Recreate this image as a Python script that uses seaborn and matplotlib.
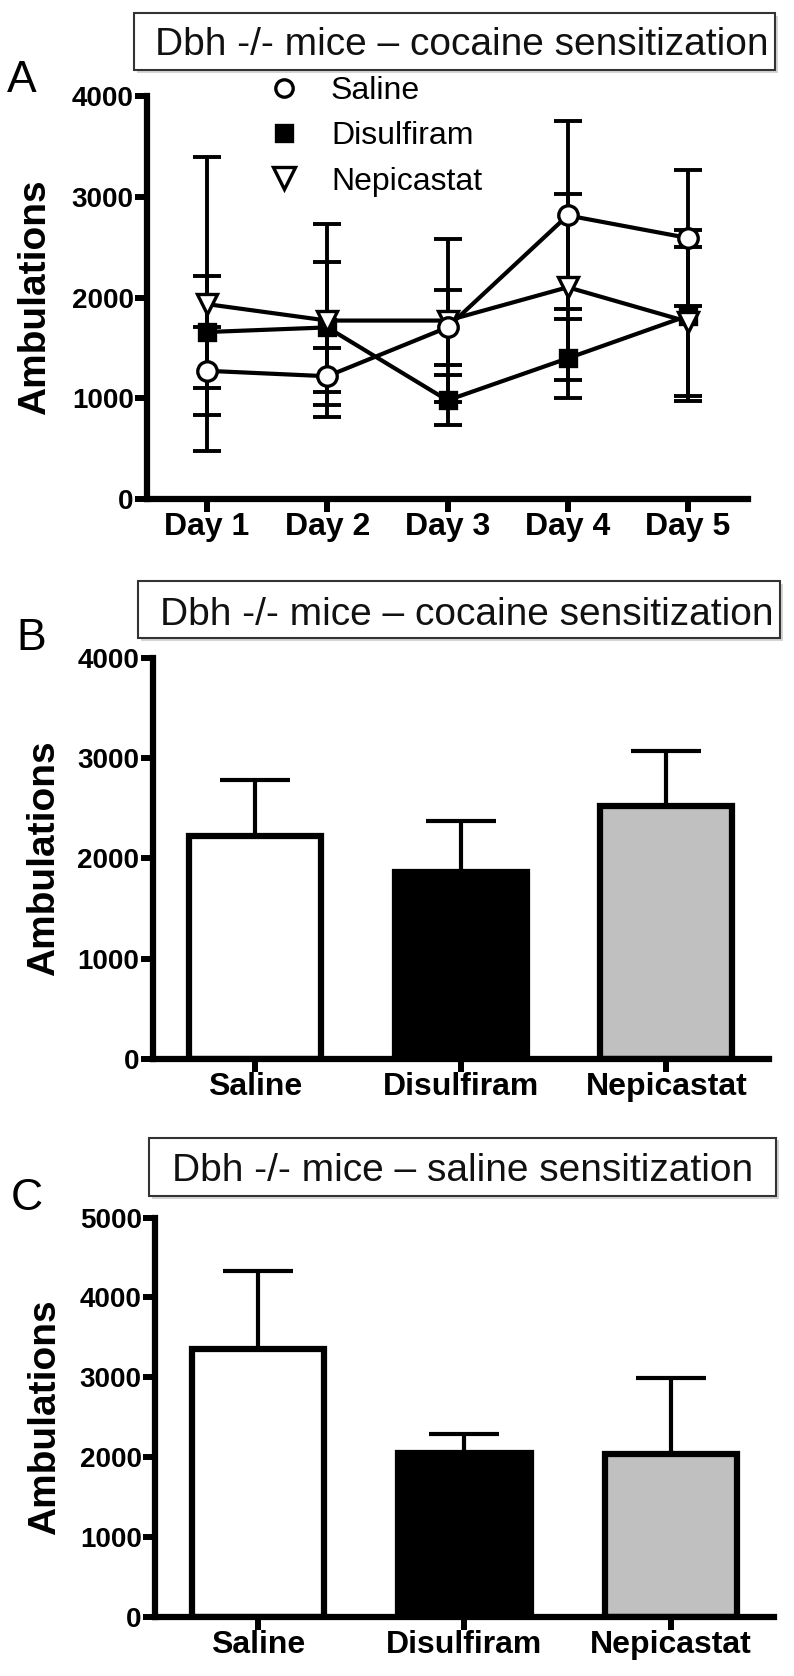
import numpy as np
import matplotlib
matplotlib.use("Agg")
import matplotlib.pyplot as plt
from matplotlib.patches import Rectangle
from matplotlib.lines import Line2D
import seaborn as sns

# panel A - ambulations per day (mean, sem)
days = ['Day 1', 'Day 2', 'Day 3', 'Day 4', 'Day 5']
saline_mean = [1273, 1219, 1704, 2816, 2592]
saline_sem = [440, 285, 375, 934, 677]
disulfiram_mean = [1658, 1704, 980, 1397, 1820]
disulfiram_sem = [555, 645, 250, 390, 850]
nepicastat_mean = [1935, 1772, 1772, 2103, 1760]
nepicastat_sem = [1460, 955, 813, 925, 740]

# panels B and C - totals per treatment
groups = ['Saline', 'Disulfiram', 'Nepicastat']
cocaine_mean = [2225, 1868, 2522]
cocaine_sem = [555, 501, 548]
salsens_mean = [3350, 2046, 2037]
salsens_sem = [980, 247, 953]
bar_colors = ['white', 'black', '#c0c0c0']

titles = ['Dbh -/- mice \u2013 cocaine sensitization',
          'Dbh -/- mice \u2013 cocaine sensitization',
          'Dbh -/- mice \u2013 saline sensitization']

sns.set_style("ticks")
plt.rcParams['font.family'] = ['Liberation Sans', 'DejaVu Sans']
# pure black text and axes (seaborn defaults to dark gray)
for key in ['text.color', 'axes.labelcolor', 'xtick.color', 'ytick.color', 'axes.edgecolor']:
    plt.rcParams[key] = 'black'

W, H = 794, 1676
fig = plt.figure(figsize=(W / 100, H / 100), dpi=100)


def fx(x):
    return x / W


def fy(y):
    return 1 - y / H


def axes_px(left, top, right, bottom):
    return fig.add_axes([fx(left), fy(bottom), (right - left) / W, (bottom - top) / H])


def style_axes(ax, yticks, xlabels, ylab_x):
    sns.despine(ax=ax)
    for s in ['left', 'bottom']:
        ax.spines[s].set_linewidth(4.5)
        ax.spines[s].set_color('black')
        ax.spines[s].set_capstyle('projecting')
    ax.tick_params(axis='both', length=9, width=4.3, color='black', labelcolor='black', pad=0.5)
    ax.set_yticks(yticks, labels=[str(t) for t in yticks], fontsize=20, fontweight='bold')
    ax.set_xticks(range(len(xlabels)), labels=xlabels, fontsize=23, fontweight='bold')
    ax.set_ylim(yticks[0], yticks[-1])
    ax.set_xlim(-0.5, len(xlabels) - 0.5)
    ax.set_xlabel('')
    ax.set_ylabel('Ambulations', fontsize=28, fontweight='bold', color='black')
    ax.yaxis.set_label_coords(ylab_x, 0.5)


def title_box(left, top, right, bottom, text, tx, ty):
    shadow = Rectangle((fx(left + 3), fy(bottom + 3)), (right - left) / W, (bottom - top) / H,
                       transform=fig.transFigure, facecolor='#d4d4d4', edgecolor='none', zorder=0)
    box = Rectangle((fx(left), fy(bottom)), (right - left) / W, (bottom - top) / H,
                    transform=fig.transFigure, facecolor='white', edgecolor='#333333',
                    linewidth=1.5, zorder=1)
    fig.add_artist(shadow)
    fig.add_artist(box)
    fig.text(fx(tx), fy(ty), text, fontsize=28, color='#111111', ha='left', va='baseline', zorder=2)


# ---------------- Panel A ----------------
axA = axes_px(147, 96.2, 748, 499)
x_idx = np.arange(len(days))
series = [
    (disulfiram_mean, disulfiram_sem, dict(marker='s', markersize=11.5, markerfacecolor='black')),
    (nepicastat_mean, nepicastat_sem, dict(marker='v', markersize=14.5, markerfacecolor='white')),
    (saline_mean, saline_sem, dict(marker='o', markersize=14, markerfacecolor='white')),
]
for mean, sem, mk in series:
    axA.errorbar(x_idx, mean, yerr=sem, fmt='none', ecolor='black', elinewidth=2.8,
                 capsize=10, capthick=2.8, zorder=2)
for mean, sem, mk in series:
    sns.lineplot(x=x_idx, y=mean, ax=axA, color='black', linewidth=3, errorbar=None,
                 markeredgecolor='black', markeredgewidth=2.4, zorder=3, **mk)
style_axes(axA, [0, 1000, 2000, 3000, 4000], days, -0.156)

handles = [
    Line2D([], [], ls='none', marker='o', ms=12.5, mfc='white', mec='black', mew=2.4),
    Line2D([], [], ls='none', marker='s', ms=11.5, mfc='black', mec='black', mew=2.4),
    Line2D([], [], ls='none', marker='v', ms=16, mfc='white', mec='black', mew=2.4),
]
fig.legend(handles, groups, loc='upper left', bbox_to_anchor=(fx(268), fy(76)),
           frameon=False, fontsize=23, handlelength=1.0, handletextpad=0.97,
           labelspacing=0.48, borderpad=0, borderaxespad=0, labelcolor='black')

# ---------------- Panel B ----------------
axB = axes_px(152.5, 657.6, 769, 1059)
sns.barplot(x=groups, y=cocaine_mean, hue=groups, palette=bar_colors, legend=False,
            errorbar=None, width=0.64, edgecolor='black', linewidth=4.5, ax=axB)
axB.errorbar(range(3), cocaine_mean, yerr=[np.zeros(3), cocaine_sem], fmt='none',
             ecolor='black', elinewidth=3, capsize=25, capthick=3, zorder=0.5)
style_axes(axB, [0, 1000, 2000, 3000, 4000], groups, -0.147)

# ---------------- Panel C ----------------
axC = axes_px(155, 1217.6, 774, 1616.7)
sns.barplot(x=groups, y=salsens_mean, hue=groups, palette=bar_colors, legend=False,
            errorbar=None, width=0.64, edgecolor='black', linewidth=4.5, ax=axC)
axC.errorbar(range(3), salsens_mean, yerr=[np.zeros(3), salsens_sem], fmt='none',
             ecolor='black', elinewidth=3, capsize=25, capthick=3, zorder=0.5)
style_axes(axC, [0, 1000, 2000, 3000, 4000, 5000], groups, -0.148)

# title boxes and panel letters
title_box(133.5, 12.6, 775, 70, titles[0], 155, 54.6)
title_box(137.5, 581.5, 779.6, 638, titles[1], 159.7, 624.5)
title_box(149, 1137.5, 776, 1195.7, titles[2], 171.6, 1180.6)
fig.text(fx(7), fy(91.5), 'A', fontsize=32, va='baseline', ha='left')
fig.text(fx(16), fy(650), 'B', fontsize=32, va='baseline', ha='left')
fig.text(fx(11), fy(1210), 'C', fontsize=32, va='baseline', ha='left')

fig.savefig('out.png', dpi=100)
